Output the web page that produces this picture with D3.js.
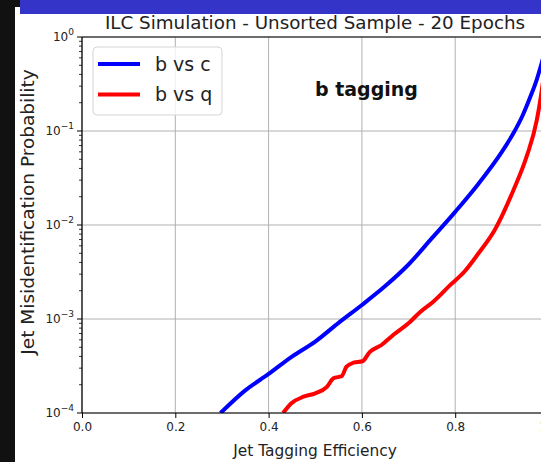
<!DOCTYPE html>
<html><head><meta charset="utf-8">
<script src="https://cdn.jsdelivr.net/npm/d3@7/dist/d3.min.js"></script>
<style>
html,body{margin:0;padding:0;background:#111;overflow:hidden;}
svg{display:block;font-family:"DejaVu Sans",sans-serif;}
</style></head><body>
<script>
const title = "ILC Simulation - Unsorted Sample - 20 Epochs";
const xLabel = "Jet Tagging Efficiency";
const yLabel = "Jet Misidentification Probability";
const annotation = "b tagging";
const seriesNames = ["b vs c", "b vs q"];
const seriesColors = ["#0000ff", "#ff0000"];
const xTicks = [0.0, 0.2, 0.4, 0.6, 0.8, 1.0];
const yTickExps = [0, -1, -2, -3, -4];

const effBC = [0.297,0.35,0.4,0.45,0.5,0.55,0.6,0.65,0.7,0.75,0.8,0.85,0.9,0.925,0.945,0.96,0.975,0.984,1.0];
const misBC = [1e-4,1.74e-4,2.6e-4,3.98e-4,5.75e-4,9.1e-4,1.41e-3,2.24e-3,3.8e-3,7.24e-3,1.38e-2,2.75e-2,6.0e-2,9.5e-2,0.148,0.224,0.355,0.5,1.0];
const effBQ = [0.431,0.449,0.475,0.5,0.525,0.539,0.557,0.567,0.582,0.601,0.617,0.642,0.667,0.703,0.725,0.753,0.789,0.82,0.85,0.885,0.925,0.953,0.975,0.984,1.0];
const misBQ = [1e-4,1.27e-4,1.49e-4,1.62e-4,1.9e-4,2.34e-4,2.48e-4,3.11e-4,3.43e-4,3.55e-4,4.47e-4,5.29e-4,6.76e-4,9.3e-4,1.19e-3,1.53e-3,2.29e-3,3.2e-3,5.0e-3,8.9e-3,2.36e-2,5.33e-2,0.131,0.24,1.0];

const W = 541, H = 462;
const L = 82, T = 37, R = 548.5, B = 413;

const svg = d3.select("body").append("svg").attr("width", W).attr("height", H);
svg.append("rect").attr("width", W).attr("height", H).attr("fill", "#111");
svg.append("rect").attr("x", 15).attr("y", 7).attr("width", W - 15).attr("height", H - 7).attr("fill", "#fff");

const x = d3.scaleLinear().domain([0, 1]).range([L, R]);
const y = d3.scaleLog().domain([1e-4, 1]).range([B, T]);

// grid
const g = svg.append("g");
g.selectAll(".gx").data(xTicks).join("line")
  .attr("x1", d => x(d)).attr("x2", d => x(d)).attr("y1", T).attr("y2", B)
  .attr("stroke", "#b0b0b0").attr("stroke-width", 1);
g.selectAll(".gy").data(yTickExps).join("line")
  .attr("x1", L).attr("x2", R).attr("y1", d => y(Math.pow(10, d))).attr("y2", d => y(Math.pow(10, d)))
  .attr("stroke", "#b0b0b0").attr("stroke-width", 1);

// axes
const xAxis = d3.axisBottom(x).tickValues(xTicks).tickFormat(d3.format(".1f")).tickSize(5).tickPadding(4);
const xa = svg.append("g").attr("transform", `translate(0,${B})`).call(xAxis);
xa.select(".domain").remove();
xa.selectAll("text").attr("font-size", 12).attr("fill", "#222").attr("font-family", "DejaVu Sans");
xa.selectAll("line").attr("stroke", "#000");

const minor = [];
for (let e = -4; e < 0; e++) for (let k = 2; k <= 9; k++) minor.push(k * Math.pow(10, e));
const ya = svg.append("g");
ya.selectAll(".mn").data(minor).join("line")
  .attr("x1", L - 3).attr("x2", L).attr("y1", d => y(d)).attr("y2", d => y(d)).attr("stroke", "#000").attr("stroke-width", 0.8);
ya.selectAll(".mj").data(yTickExps).join("line")
  .attr("x1", L - 5).attr("x2", L).attr("y1", d => y(Math.pow(10, d))).attr("y2", d => y(Math.pow(10, d))).attr("stroke", "#000");
const yl = ya.selectAll(".lbl").data(yTickExps).join("text")
  .attr("x", L - 8).attr("y", d => y(Math.pow(10, d)) + 4)
  .attr("text-anchor", "end").attr("font-size", 12).attr("fill", "#222");
yl.append("tspan").text("10");
yl.append("tspan").attr("dy", -6).attr("font-size", 9).text(d => d === 0 ? "0" : "\u2212" + (-d));

// curves
const clip = svg.append("clipPath").attr("id", "clip").append("rect")
  .attr("x", L).attr("y", T).attr("width", R - L).attr("height", B - T);
const line = d3.line().x(d => x(d[0])).y(d => y(d[1])).curve(d3.curveMonotoneX);
const series = [d3.zip(effBC, misBC), d3.zip(effBQ, misBQ)];
svg.append("g").attr("clip-path", "url(#clip)").selectAll("path").data(series).join("path")
  .attr("d", line).attr("fill", "none").attr("stroke", (d, i) => seriesColors[i]).attr("stroke-width", 4)
  .attr("stroke-linejoin", "round");

// spines
svg.append("line").attr("x1", L).attr("x2", L).attr("y1", T).attr("y2", B).attr("stroke", "#000").attr("stroke-width", 1.2);
svg.append("line").attr("x1", L).attr("x2", R).attr("y1", B).attr("y2", B).attr("stroke", "#000").attr("stroke-width", 1.2);
svg.append("line").attr("x1", L).attr("x2", R).attr("y1", T).attr("y2", T).attr("stroke", "#000").attr("stroke-width", 1.2);

// legend
const lg = svg.append("g");
lg.append("rect").attr("x", 93).attr("y", 47).attr("width", 129).attr("height", 68).attr("rx", 4)
  .attr("fill", "#fff").attr("fill-opacity", 0.8).attr("stroke", "#d5d5d5");
seriesNames.forEach((n, i) => {
  const yy = 64 + i * 30.5;
  lg.append("line").attr("x1", 98).attr("x2", 140).attr("y1", yy).attr("y2", yy)
    .attr("stroke", seriesColors[i]).attr("stroke-width", 4);
  lg.append("text").attr("x", 155).attr("y", yy + 6.5).attr("font-size", 19).attr("fill", "#222").text(n);
});

// annotation
svg.append("text").attr("x", 315).attr("y", 96).attr("font-size", 19).attr("font-weight", "bold").attr("fill", "#111").text(annotation);

// title & labels
svg.append("text").attr("x", 315).attr("y", 29).attr("text-anchor", "middle").attr("font-size", 18.3).attr("fill", "#222").text(title);
svg.append("text").attr("x", 315).attr("y", 456).attr("text-anchor", "middle").attr("font-size", 15.4).attr("fill", "#222").text(xLabel);
svg.append("text").attr("transform", `translate(34,${(T + B) / 2 - 13}) rotate(-90)`).attr("text-anchor", "middle")
  .attr("font-size", 18.5).attr("fill", "#222").text(yLabel);

// banner
svg.append("rect").attr("x", 20).attr("y", 0).attr("width", W - 20).attr("height", 14).attr("fill", "#3434c8");
</script>
</body></html>
